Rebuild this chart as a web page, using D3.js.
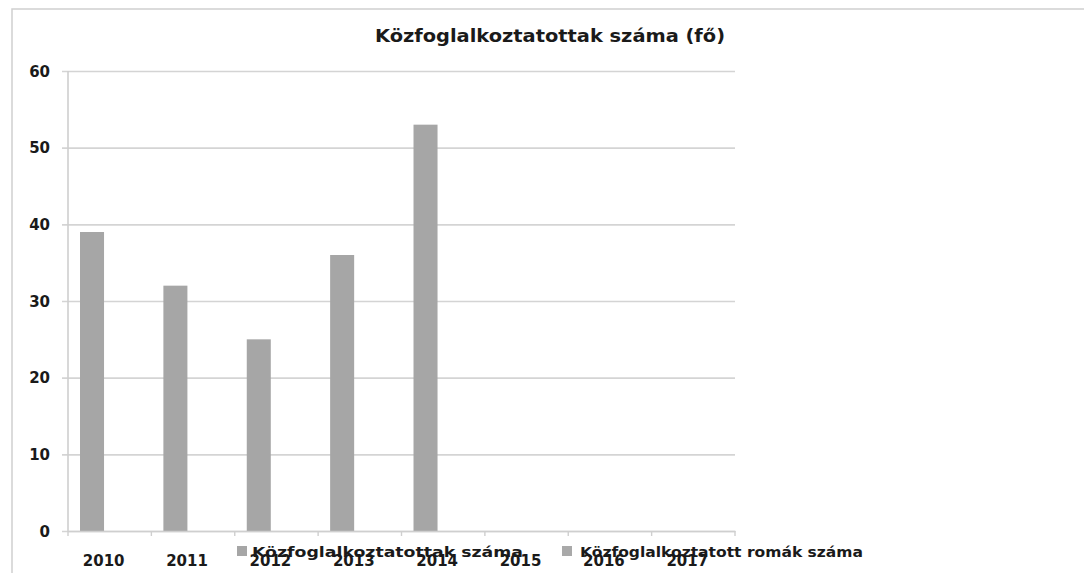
<!DOCTYPE html>
<html><head><meta charset="utf-8">
<script src="https://cdn.jsdelivr.net/npm/d3@7"></script>
<style>body{margin:0;background:#fff}svg{display:block}</style>
</head><body>
<svg id="c" width="1084" height="573"></svg>
<script>
const title = "Közfoglalkoztatottak száma (fő)";
const categories = ["2010","2011","2012","2013","2014","2015","2016","2017"];
const seriesNames = ["Közfoglalkoztatottak száma","Közfoglalkoztatott romák száma"];
const series1 = [39, 32, 25, 36, 53, null, null, null];
const series2 = [null, null, null, null, null, null, null, null];
const yTicks = [0, 10, 20, 30, 40, 50, 60];
const colors = ["#a6a6a6", "#a9a9a9"];

const svg = d3.select("#c");
const font = "'DejaVu Sans', Verdana, sans-serif";
const L = 68, R = 735, T = 71, B = 531;

// outer chart border
svg.append("rect").attr("x", 12).attr("y", 9).attr("width", 1200).attr("height", 700)
  .attr("fill", "none").attr("stroke", "#cfcfcf").attr("stroke-width", 1.5);

const x0 = d3.scaleBand().domain(categories).range([L, R]).padding(0);
const x1 = d3.scaleBand().domain([0, 1]).range([0, x0.bandwidth()]).paddingInner(0.32).paddingOuter(0.34);
const y = d3.scaleLinear().domain([0, 60]).range([B, T]);

// gridlines + y axis
const yAxis = d3.axisLeft(y).tickValues(yTicks).tickSize(-(R - L)).tickPadding(14).tickFormat(d3.format("d"));
const gy = svg.append("g").attr("transform", `translate(${L},0)`).call(yAxis);
gy.select(".domain").remove();
gy.selectAll(".tick line").attr("stroke", "#d4d4d4").attr("stroke-width", 1.6).attr("x1", -6);
gy.selectAll(".tick text").attr("font-family", font).attr("font-weight", "bold")
  .attr("font-size", 15).attr("fill", "#1a1a1a").attr("x", -18).attr("dy", "0.35em");

// y axis line
svg.append("line").attr("x1", L).attr("x2", L).attr("y1", T).attr("y2", B)
  .attr("stroke", "#cfcfcf").attr("stroke-width", 1.6);

// bars
const data = [series1, series2];
data.forEach((s, si) => {
  svg.append("g").selectAll("rect")
    .data(categories.map((c, i) => ({c, v: s[i]})).filter(d => d.v != null))
    .join("rect")
    .attr("x", d => x0(d.c) + x1(si))
    .attr("width", x1.bandwidth())
    .attr("y", d => y(d.v))
    .attr("height", d => y(0) - y(d.v))
    .attr("fill", colors[si]);
});

// x axis
const xAxis = d3.axisBottom(x0).tickSize(0).tickPadding(0);
const gx = svg.append("g").attr("transform", `translate(0,${B})`).call(xAxis);
gx.select(".domain").attr("stroke", "#cfcfcf").attr("stroke-width", 1.6);
gx.selectAll(".tick text").attr("font-family", font).attr("font-weight", "bold")
  .attr("font-size", 15).attr("fill", "#1a1a1a").attr("y", 35).attr("dy", 0).attr("dx", -6);
// category boundary ticks
svg.append("g").selectAll("line").data(categories.concat(["end"]))
  .join("line")
  .attr("x1", (d, i) => i < categories.length ? x0(d) : R)
  .attr("x2", (d, i) => i < categories.length ? x0(d) : R)
  .attr("y1", B).attr("y2", B + 5)
  .attr("stroke", "#cfcfcf").attr("stroke-width", 1.4);

// title
svg.append("text").attr("x", 375).attr("y", 42)
  .attr("font-family", font).attr("font-weight", "bold").attr("font-size", 17)
  .attr("fill", "#1a1a1a").attr("textLength", 350).attr("lengthAdjust", "spacingAndGlyphs")
  .text(title);

// legend
const legendPos = [{sx: 237, tx: 252, w: 271}, {sx: 562, tx: 580, w: 283}];
seriesNames.forEach((n, i) => {
  const p = legendPos[i];
  svg.append("rect").attr("x", p.sx).attr("y", 546).attr("width", 10).attr("height", 10).attr("fill", colors[i]);
  svg.append("text").attr("x", p.tx).attr("y", 557)
    .attr("font-family", font).attr("font-weight", "bold").attr("font-size", 14)
    .attr("fill", "#1a1a1a").attr("textLength", p.w).attr("lengthAdjust", "spacingAndGlyphs")
    .text(n);
});
</script>
</body></html>
